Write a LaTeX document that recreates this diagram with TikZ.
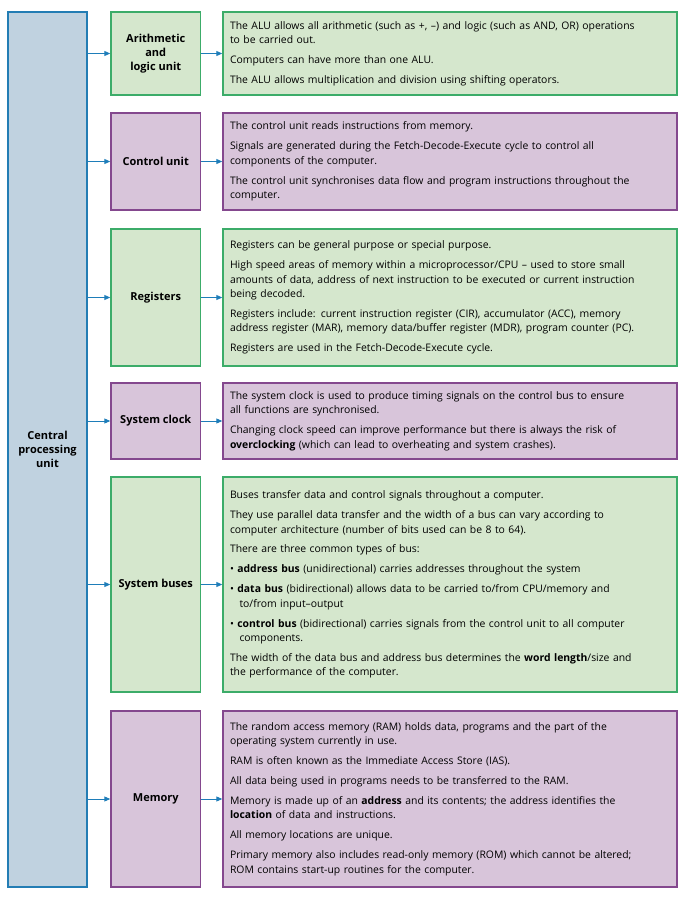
\documentclass[tikz,border=0pt]{standalone}
\usepackage{fontspec}
\setmainfont{Open Sans}
\usetikzlibrary{arrows.meta}
\definecolor{cpufill}{RGB}{192,210,224}
\definecolor{cpuline}{RGB}{35,125,180}
\definecolor{grnfill}{RGB}{213,231,205}
\definecolor{grnline}{RGB}{60,172,105}
\definecolor{prpfill}{RGB}{216,197,218}
\definecolor{prpline}{RGB}{132,72,142}
\definecolor{arrowblue}{RGB}{30,125,185}
\newcommand{\gap}{\\[5.5pt]}
\newcommand{\ind}{\hspace*{9.5pt}}
\begin{document}
\begin{tikzpicture}[x=1pt,y=-1pt,
  cpubox/.style={draw=cpuline, fill=cpufill, line width=1.4pt, minimum width=79pt, minimum height=875pt, inner sep=0pt, align=center, font=\fontsize{11}{14}\selectfont\bfseries},
  unitbox/.style={line width=1.4pt, minimum width=89.5pt, inner sep=0pt, align=center, font=\fontsize{11}{14}\selectfont\bfseries},
  notebox/.style={line width=1.4pt, minimum width=454pt, inner xsep=7pt, inner ysep=0pt, text width=440pt, align=left, font=\fontsize{10.4}{14.4}\selectfont},
  grn/.style={draw=grnline, fill=grnfill},
  prp/.style={draw=prpline, fill=prpfill},
  link/.style={arrowblue, line width=0.9pt, -{Triangle[length=6pt,width=5pt]}}]
\useasboundingbox (0,0) rectangle (687,898);
\node[cpubox] (cpu) at (47.5,449.5) {Central\\processing\\unit};
\node[unitbox, grn, minimum height=83pt] (alu) at (155.75,53.5) {Arithmetic\\and\\logic unit};
\node[notebox, grn, minimum height=83pt] (alunote) at (450,53.5) {The ALU allows all arithmetic (such as +, --) and logic (such as AND, OR) operations\\to be carried out.\gap
Computers can have more than one ALU.\gap
The ALU allows multiplication and division using shifting operators.};
\node[unitbox, prp, minimum height=97pt] (cu) at (155.75,161.5) {Control unit};
\node[notebox, prp, minimum height=97pt] (cunote) at (450,161.5) {The control unit reads instructions from memory.\gap
Signals are generated during the Fetch-Decode-Execute cycle to control all\\components of the computer.\gap
The control unit synchronises data flow and program instructions throughout the\\computer.};
\node[unitbox, grn, minimum height=137pt] (reg) at (155.75,297.5) {Registers};
\node[notebox, grn, minimum height=137pt] (regnote) at (450,297.5) {Registers can be general purpose or special purpose.\gap
High speed areas of memory within a microprocessor/CPU -- used to store small\\amounts of data, address of next instruction to be executed or current instruction\\being decoded.\gap
Registers include: current instruction register (CIR), accumulator (ACC), memory\\address register (MAR), memory data/buffer register (MDR), program counter (PC).\gap
Registers are used in the Fetch-Decode-Execute cycle.};
\node[unitbox, prp, minimum height=76pt] (clk) at (155.75,421) {System clock};
\node[notebox, prp, minimum height=76pt] (clknote) at (450,421) {The system clock is used to produce timing signals on the control bus to ensure\\all functions are synchronised.\gap
Changing clock speed can improve performance but there is always the risk of\\\textbf{overclocking} (which can lead to overheating and system crashes).};
\node[unitbox, grn, minimum height=215pt] (bus) at (155.75,584.5) {System buses};
\node[notebox, grn, minimum height=215pt] (busnote) at (450,584.5) {Buses transfer data and control signals throughout a computer.\gap
They use parallel data transfer and the width of a bus can vary according to\\computer architecture (number of bits used can be 8 to 64).\gap
There are three common types of bus:\gap
\textbullet\ \textbf{address bus} (unidirectional) carries addresses throughout the system\gap
\textbullet\ \textbf{data bus} (bidirectional) allows data to be carried to/from CPU/memory and\\\ind to/from input--output\gap
\textbullet\ \textbf{control bus} (bidirectional) carries signals from the control unit to all computer\\\ind components.\gap
The width of the data bus and address bus determines the \textbf{word length}/size and\\the performance of the computer.};
\node[unitbox, prp, minimum height=176pt] (mem) at (155.75,799) {Memory};
\node[notebox, prp, minimum height=176pt] (memnote) at (450,799) {The random access memory (RAM) holds data, programs and the part of the\\operating system currently in use.\gap
RAM is often known as the Immediate Access Store (IAS).\gap
All data being used in programs needs to be transferred to the RAM.\gap
Memory is made up of an \textbf{address} and its contents; the address identifies the\\\textbf{location} of data and instructions.\gap
All memory locations are unique.\gap
Primary memory also includes read-only memory (ROM) which cannot be altered;\\ROM contains start-up routines for the computer.};
\foreach \u/\n in {alu/alunote, cu/cunote, reg/regnote, clk/clknote, bus/busnote, mem/memnote}{
  \draw[link] (cpu.east |- \u.west) -- (\u.west);
  \draw[link] (\u) -- (\n);
}
\end{tikzpicture}
\end{document}
